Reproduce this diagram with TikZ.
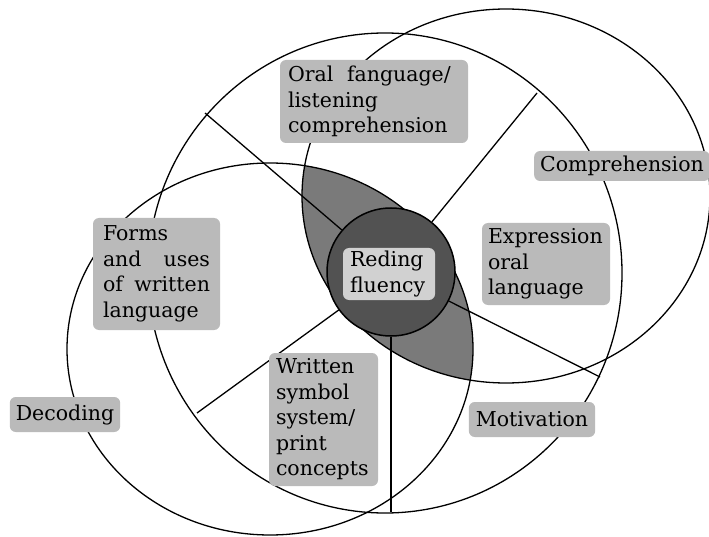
\documentclass[tikz,border=0pt]{standalone}
\usepackage{fontspec}
\setmainfont{DejaVu Serif}
\definecolor{boxgray}{gray}{0.73}
\definecolor{lensgray}{gray}{0.48}
\definecolor{coregray}{gray}{0.32}
\definecolor{innergray}{gray}{0.82}

\begin{document}
\begin{tikzpicture}[x=1pt,y=-1pt,line width=1.3pt,
    lbl/.style={fill=boxgray,rounded corners=6pt,align=left,inner xsep=8pt,inner ysep=3pt,
      font=\fontsize{20.5}{25.5}\selectfont},
    core/.style={circle,draw,fill=coregray,minimum size=128pt,line width=1.5pt}]
  \fill[white] (0,0) rectangle (709,537);
  \useasboundingbox (0,0) rectangle (709,537);

  % lens where the two small rings meet
  \begin{scope}
    \clip (270,349) ellipse [x radius=203, y radius=186];
    \fill[lensgray] (506,196) ellipse [x radius=204, y radius=187];
  \end{scope}

  \draw (270,349) ellipse [x radius=203, y radius=186]; % decoding ring
  \draw (385,273) ellipse [x radius=237, y radius=240]; % motivation ring
  \draw (506,196) ellipse [x radius=204, y radius=187]; % comprehension ring

  \node[core] (core) at (391,272) {};

  \coordinate (ul) at (205,113);
  \coordinate (ur) at (537,93);
  \coordinate (lr) at (600,377);
  \coordinate (dn) at (391,512);
  \coordinate (ll) at (197,413);
  \foreach \e in {ul,ur,lr,dn,ll}
    \draw (core) -- (\e);

  \node[lbl,text width=172pt,minimum height=83pt] (oral) at (374,101.5)
    {Oral\ \ fanguage/\\listening\\comprehension};
  \node[lbl,inner xsep=6pt,minimum height=30pt] (compr) at (622,166) {Comprehension};
  \node[lbl,text width=116pt,minimum height=82pt,inner xsep=6pt] (expr) at (546,264)
    {Expression\\oral\\language};
  \node[lbl,fill=innergray,text width=78pt,minimum height=52pt,inner xsep=7pt] (fluency) at (389,274)
    {Reding\\fluency};
  \node[lbl,text width=107pt,minimum height=112pt,inner xsep=10pt] (forms) at (156.5,274)
    {Forms\\and\hfill uses\\of\hfill written\\language};
  \node[lbl,inner xsep=6pt,minimum height=35pt] (decod) at (65,414.5) {Decoding};
  \node[lbl,text width=95pt,minimum height=133pt,inner xsep=7pt] (written) at (323.5,419.5)
    {Written\\symbol\\system/\\print\\concepts};
  \node[lbl,inner xsep=7pt,minimum height=35pt] (motiv) at (532,419.5) {Motivation};
\end{tikzpicture}
\end{document}
